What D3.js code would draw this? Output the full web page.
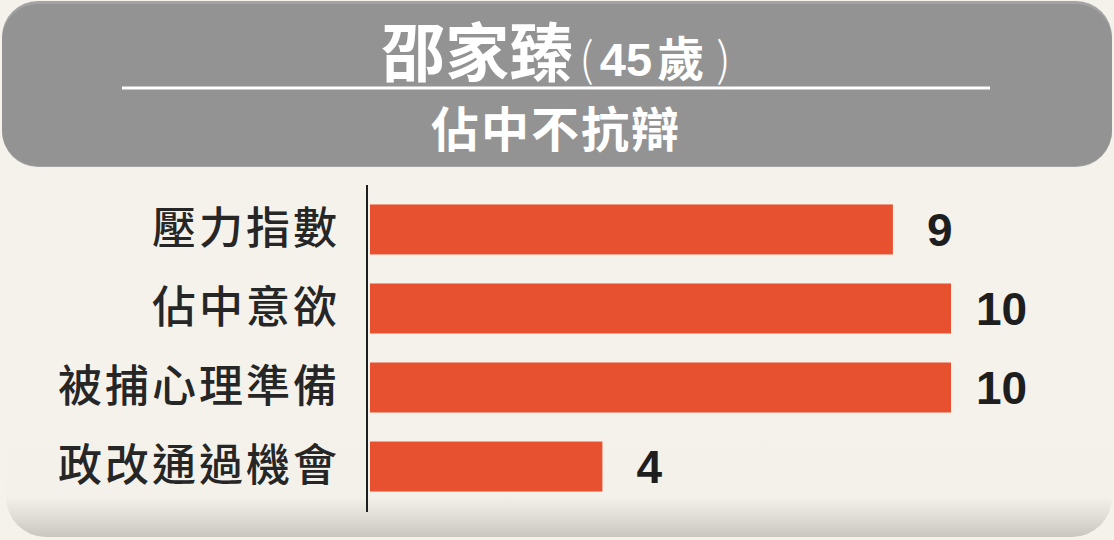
<!DOCTYPE html>
<html>
<head>
<meta charset="utf-8">
<script src="https://cdn.jsdelivr.net/npm/d3@7"></script>
<style>
  html, body { margin: 0; padding: 0; background: #f5f2ec; }
  svg { display: block; }
</style>
</head>
<body>
<svg id="chart" width="1114" height="540"></svg>
<script>
// data
var titleName = "邵家臻";
var titleAge = "45歲";
var subtitle = "佔中不抗辯";
var categories = ["壓力指數", "佔中意欲", "被捕心理準備", "政改通過機會"];
var values = [9, 10, 10, 4];
var xMax = 10;

var W = 1114, H = 540;
var svg = d3.select("#chart");
var defs = svg.append("defs");

// bottom curl shadow
var grad = defs.append("linearGradient")
    .attr("id", "curl").attr("x1", 0).attr("y1", 0).attr("x2", 0).attr("y2", 1);
grad.append("stop").attr("offset", 0).attr("stop-color", "#f5f2ec");
grad.append("stop").attr("offset", 0.74).attr("stop-color", "#f4f1eb");
grad.append("stop").attr("offset", 0.86).attr("stop-color", "#e2dfd9");
grad.append("stop").attr("offset", 1).attr("stop-color", "#c9c6c0");

svg.append("rect")
    .attr("x", 6).attr("y", 380).attr("width", 1106).attr("height", 157)
    .attr("rx", 40).attr("ry", 40)
    .attr("fill", "url(#curl)");

// header box
svg.append("rect")
    .attr("x", 2).attr("y", 1).attr("width", 1110).attr("height", 166)
    .attr("rx", 36).attr("ry", 36)
    .attr("fill", "#a3a3a3");
svg.append("rect")
    .attr("x", 2).attr("y", 4).attr("width", 1110).attr("height", 162)
    .attr("rx", 36).attr("ry", 36)
    .attr("fill", "#939393");

svg.append("line")
    .attr("x1", 122).attr("x2", 990).attr("y1", 88).attr("y2", 88)
    .attr("stroke", "#ffffff").attr("stroke-width", 3);

var title = svg.append("text")
    .attr("x", 556).attr("y", 76)
    .attr("text-anchor", "middle")
    .attr("fill", "#ffffff")
    .attr("font-family", "'Noto Sans CJK TC', 'Noto Sans CJK SC', sans-serif");
title.append("tspan").attr("font-size", 64).attr("font-weight", 700).text(titleName);
title.append("tspan").attr("font-size", 46).attr("font-weight", 300).attr("dx", 6).text("(");
title.append("tspan").attr("font-size", 47).attr("font-weight", 700)
    .attr("font-family", "'Liberation Sans', Arial, sans-serif").attr("dx", 6).text(titleAge.slice(0, 2));
title.append("tspan").attr("font-size", 47).attr("font-weight", 700).attr("dx", 5).text(titleAge.slice(2));
title.append("tspan").attr("font-size", 46).attr("font-weight", 300).attr("dx", 12).text(")");

svg.append("text")
    .attr("x", 556).attr("y", 147)
    .attr("text-anchor", "middle")
    .attr("fill", "#ffffff")
    .attr("font-family", "'Noto Sans CJK TC', 'Noto Sans CJK SC', sans-serif")
    .attr("font-size", 48).attr("font-weight", 700)
    .attr("letter-spacing", 2)
    .text(subtitle);

// scales
var x = d3.scaleLinear().domain([0, xMax]).range([370, 951]);
var y = d3.scaleBand().domain(categories).range([190, 506])
    .paddingInner(0.367).paddingOuter(0.183);

// bars
svg.selectAll(".bar").data(values).enter()
    .append("rect").attr("class", "bar")
    .attr("x", x(0))
    .attr("y", function(d, i){ return y(categories[i]); })
    .attr("width", function(d){ return x(d) - x(0); })
    .attr("height", y.bandwidth())
    .attr("fill", "#e8512f");

// value labels
svg.selectAll(".val").data(values).enter()
    .append("text").attr("class", "val")
    .attr("x", function(d){ return x(d) + (d < 10 ? 34 : 25); })
    .attr("y", function(d, i){ return y(categories[i]) + y.bandwidth() / 2; })
    .attr("dy", "0.36em")
    .attr("font-family", "'Liberation Sans', Arial, sans-serif")
    .attr("font-size", 46).attr("font-weight", 700)
    .attr("fill", "#1e1e1e")
    .text(function(d){ return d; });

// category axis
var yAxis = d3.axisLeft(y).tickSize(0).tickPadding(27);
var gy = svg.append("g").attr("transform", "translate(367,0)").call(yAxis);
gy.select(".domain").remove();
gy.selectAll("text")
    .attr("font-family", "'Noto Sans CJK TC', 'Noto Sans CJK SC', sans-serif")
    .attr("font-size", 44)
    .attr("font-weight", 500)
    .attr("letter-spacing", 3)
    .attr("fill", "#262626");

svg.append("line")
    .attr("x1", 367).attr("x2", 367).attr("y1", 185).attr("y2", 512)
    .attr("stroke", "#1e1e1e").attr("stroke-width", 2);
</script>
</body>
</html>
